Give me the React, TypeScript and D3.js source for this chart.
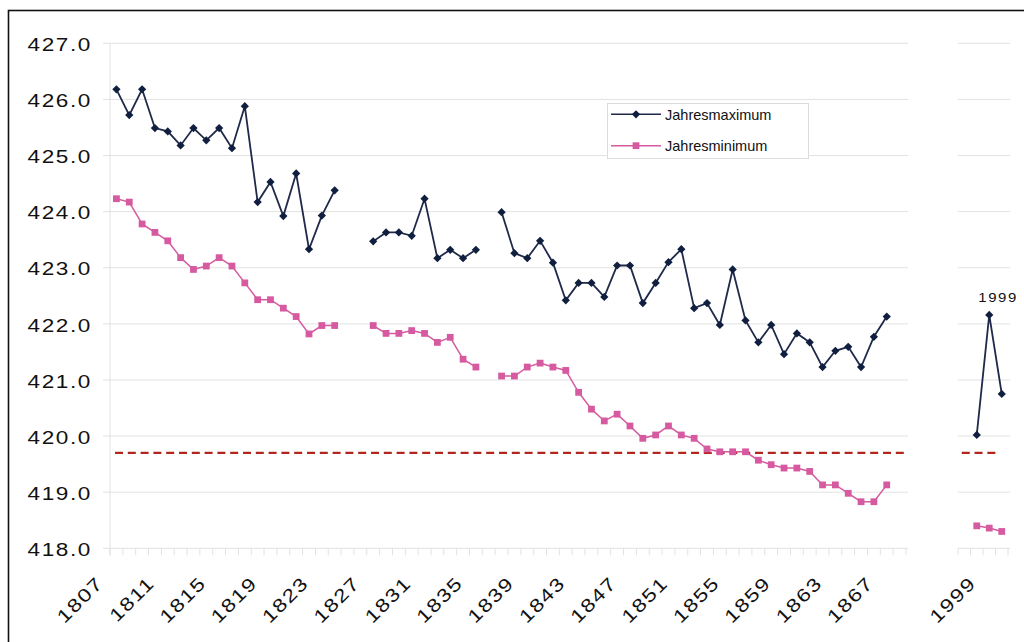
import React from 'react';
import * as d3 from 'd3';

// categories (main panel 1807-1868, side panel 1997-2000)
const yearsMain = d3.range(1807, 1869);
const yearsSide = [1997, 1998, 1999, 2000];

// Jahresmaximum, one value per year (null = no data)
const maxMain = [
  426.18, 425.72, 426.18, 425.49, 425.43, 425.18, 425.49, 425.27, 425.49, 425.13,
  425.88, 424.17, 424.53, 423.92, 424.68, 423.33, 423.93, 424.38, null, null,
  423.47, 423.63, 423.63, 423.57, 424.23, 423.17, 423.32, 423.17, 423.32, null,
  423.99, 423.26, 423.17, 423.48, 423.09, 422.42, 422.73, 422.73, 422.48, 423.04,
  423.04, 422.37, 422.73, 423.1, 423.33, 422.28, 422.37, 421.98, 422.97, 422.06,
  421.67, 421.98, 421.46, 421.83, 421.67, 421.23, 421.52, 421.59, 421.23, 421.77,
  422.13, null,
];

// Jahresminimum
const minMain = [
  424.23, 424.17, 423.78, 423.63, 423.48, 423.18, 422.97, 423.03, 423.18, 423.03,
  422.73, 422.43, 422.43, 422.28, 422.13, 421.82, 421.97, 421.97, null, null,
  421.97, 421.83, 421.83, 421.88, 421.83, 421.67, 421.76, 421.37, 421.23, null,
  421.07, 421.07, 421.23, 421.3, 421.23, 421.17, 420.78, 420.48, 420.27, 420.39,
  420.18, 419.96, 420.02, 420.18, 420.02, 419.96, 419.77, 419.72, 419.72, 419.72,
  419.57, 419.49, 419.43, 419.43, 419.37, 419.13, 419.13, 418.98, 418.83, 418.83,
  419.13, null,
];

const maxSide = [null, 420.02, 422.16, 420.75];
const minSide = [null, 418.4, 418.36, 418.3];

const refLevel = 419.7;
const yTicks = [418, 419, 420, 421, 422, 423, 424, 425, 426, 427];
const annotYear = 1999;

const FONT = '"Liberation Sans", Arial, Helvetica, sans-serif';
const NAVY = '#101f3f';
const NAVY_LINE = '#1f2a4a';
const PINK = '#d65a9f';
const RED = '#b3261e';
const GRID = '#e2e2e2';
const STRETCH = 1.22; // tick labels look horizontally widened

export default function App() {
  const width = 1024;
  const height = 642;

  const y = d3.scaleLinear().domain([418, 427]).range([548.3, 43.3]);
  const xMain = d3.scaleBand<number>().domain(yearsMain).range([110, 906]);
  const xSide = d3.scaleBand<number>().domain(yearsSide).range([958, 1008]);

  const cx = (sc: d3.ScaleBand<number>, yr: number) => (sc(yr) as number) + sc.bandwidth() / 2;

  const mkLine = (sc: d3.ScaleBand<number>, years: number[]) =>
    d3
      .line<number | null>()
      .defined((d) => d != null)
      .x((_, i) => cx(sc, years[i]))
      .y((d) => y(d as number));

  const diamond = d3.symbol().type(d3.symbolSquare).size(34)() as string;
  const square = d3.symbol().type(d3.symbolSquare).size(46)() as string;

  const panels = [
    { sc: xMain, years: yearsMain, maxV: maxMain, minV: minMain, left: true },
    { sc: xSide, years: yearsSide, maxV: maxSide, minV: minSide, left: false },
  ];

  const axisY = y(418);

  return (
    <div style={{ position: 'absolute', left: 0, top: 0 }}>
      <svg width={width} height={height} style={{ display: 'block', background: '#fff' }}>
        <rect x={8.5} y={10.5} width={1100} height={700} fill="#fff" stroke="#111" strokeWidth={1.6} />

        {panels.map((p, pi) => {
          const [r0, r1] = p.sc.range();
          const bw = p.sc.bandwidth();
          return (
            <g key={pi}>
              {/* gridlines */}
              {yTicks.map((t) => (
                <line
                  key={t}
                  x1={p.left ? r0 - 7 : r0}
                  x2={r1 + 2}
                  y1={y(t)}
                  y2={y(t)}
                  stroke={GRID}
                  strokeWidth={1}
                />
              ))}
              {p.left && <line x1={r0} x2={r0} y1={y(427)} y2={axisY + 7} stroke={GRID} />}
              {/* x ticks */}
              {[...p.years.map((yr) => p.sc(yr) as number), r1].map((tx, i) => (
                <line key={i} x1={tx} x2={tx} y1={axisY} y2={axisY + 7} stroke={GRID} />
              ))}
              {/* x labels */}
              {p.years
                .filter((yr) => (yr - 1807) % 4 === 0)
                .map((yr) => (
                  <text
                    key={yr}
                    transform={`translate(${cx(p.sc, yr) - 12},${axisY + 36}) rotate(-45) scale(${STRETCH},1)`}
                    textAnchor="end"
                    fontFamily={FONT}
                    fontSize={18.5}
                    letterSpacing={1.3}
                    fill="#111"
                  >
                    {yr}
                  </text>
                ))}
              {/* reference level */}
              <line
                x1={p.left ? r0 + 5 : r0 + bw * 0.3}
                x2={p.left ? r1 : (p.sc(2000) as number)}
                y1={y(refLevel)}
                y2={y(refLevel)}
                stroke={RED}
                strokeWidth={2.2}
                strokeDasharray="8,4.8"
              />
              {/* series */}
              <path d={mkLine(p.sc, p.years)(p.minV) || ''} fill="none" stroke={PINK} strokeWidth={1.5} />
              <path d={mkLine(p.sc, p.years)(p.maxV) || ''} fill="none" stroke={NAVY_LINE} strokeWidth={1.8} />
              {p.minV.map((v, i) =>
                v == null ? null : (
                  <path key={'n' + i} d={square} transform={`translate(${cx(p.sc, p.years[i])},${y(v)})`} fill={PINK} />
                )
              )}
              {p.maxV.map((v, i) =>
                v == null ? null : (
                  <path
                    key={'x' + i}
                    d={diamond}
                    transform={`translate(${cx(p.sc, p.years[i])},${y(v)}) rotate(45)`}
                    fill={NAVY}
                  />
                )
              )}
            </g>
          );
        })}

        {/* y labels */}
        {yTicks.map((t) => (
          <text
            key={t}
            transform={`translate(92,${y(t) + 7.7}) scale(${STRETCH},1)`}
            textAnchor="end"
            fontFamily={FONT}
            fontSize={18.5}
            letterSpacing={1.3}
            fill="#111"
          >
            {t.toFixed(1)}
          </text>
        ))}

        {/* annotation */}
        <text
          transform={`translate(${cx(xSide, annotYear) - 11},${y(maxSide[yearsSide.indexOf(annotYear)] as number) - 13}) scale(1.15,1)`}
          fontFamily={FONT}
          fontSize={13}
          letterSpacing={1.4}
          fill="#111"
        >
          {annotYear}
        </text>

        {/* legend */}
        <g>
          <rect x={607.5} y={103.5} width={201} height={55} fill="#fff" stroke="#dcdcdc" />
          <line x1={611} x2={661} y1={114.3} y2={114.3} stroke={NAVY_LINE} strokeWidth={1.5} />
          <path d={diamond} transform="translate(636,114.3) rotate(45)" fill={NAVY} />
          <text x={665} y={119.5} fontFamily={FONT} fontSize={14.5} fill="#111">
            Jahresmaximum
          </text>
          <line x1={611} x2={661} y1={145.7} y2={145.7} stroke={PINK} strokeWidth={1.5} />
          <path d={square} transform="translate(636,145.7)" fill={PINK} />
          <text x={665} y={150.9} fontFamily={FONT} fontSize={14.5} fill="#111">
            Jahresminimum
          </text>
        </g>
      </svg>
    </div>
  );
}
